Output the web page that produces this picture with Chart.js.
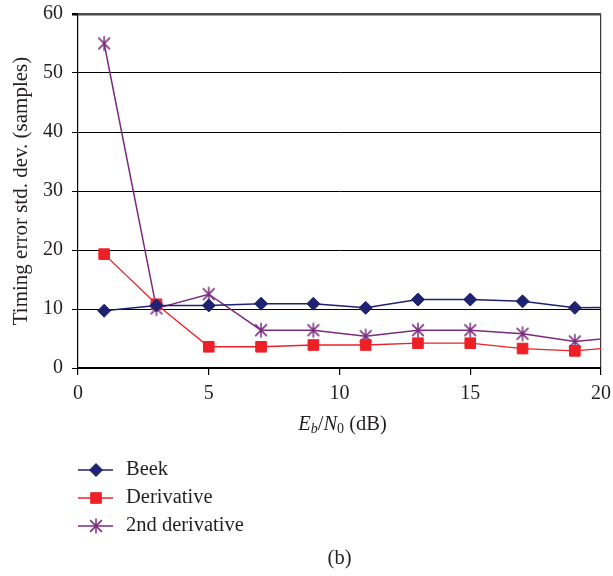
<!DOCTYPE html>
<html>
<head>
<meta charset="utf-8">
<script src="https://cdn.jsdelivr.net/npm/chart.js@4.4.0/dist/chart.umd.min.js"></script>
<style>
html,body{margin:0;padding:0;background:#fff;}
#c{display:block;}
</style>
</head>
<body>
<canvas id="c" width="613" height="576"></canvas>
<script>
// ---- data ----
const ebn0 = [1, 3, 5, 7, 9, 11, 13, 15, 17, 19, 21];
const beek = [9.7, 10.6, 10.6, 10.9, 10.9, 10.2, 11.6, 11.6, 11.3, 10.2, 10.3];
const derivative = [19.3, 10.8, 3.6, 3.6, 3.9, 3.9, 4.2, 4.2, 3.3, 2.9, 3.7];
const secondDerivative = [55, 10.1, 12.5, 6.4, 6.4, 5.4, 6.4, 6.4, 5.8, 4.5, 5.3];
const seriesLabels = ['Beek', 'Derivative', '2nd derivative'];
const yTicks = [0, 10, 20, 30, 40, 50, 60];
const xTicks = [0, 5, 10, 15, 20];

const FONT = '"Liberation Serif", "DejaVu Serif", serif';
const TXT = '#231f20';
const NAVY = '#1f2171';
const RED = '#ee2027';
const PURPLE = '#7a2b7e';

function starMarker(color) {
  const s = 18, c = document.createElement('canvas');
  c.width = s; c.height = s;
  const g = c.getContext('2d');
  g.strokeStyle = color; g.lineWidth = 1.5;
  const m = s / 2, r = 7.5;
  g.beginPath();
  g.moveTo(m, m - r); g.lineTo(m, m + r);
  const d = r * 0.78;
  g.moveTo(m - d, m - d); g.lineTo(m + d, m + d);
  g.moveTo(m + d, m - d); g.lineTo(m - d, m + d);
  g.stroke();
  return c;
}
const starImg = starMarker(PURPLE);

function pts(arr) { return ebn0.map((x, i) => ({x: x, y: arr[i]})); }

const titlesAndLegend = {
  id: 'titlesAndLegend',
  afterDraw(chart) {
    const ctx = chart.ctx;
    const area = chart.chartArea;
    ctx.save();
    ctx.fillStyle = TXT;
    // y title
    ctx.save();
    ctx.translate(21, (area.top + area.bottom) / 2);
    ctx.rotate(-Math.PI / 2);
    ctx.font = '21px ' + FONT;
    ctx.textAlign = 'center';
    ctx.textBaseline = 'middle';
    ctx.fillText('Timing error std. dev. (samples)', 0, 0);
    ctx.restore();
    // x title: E_b/N_0 (dB)
    const parts = [
      {t: 'E', f: 'italic 20.5px ' + FONT, dy: 0},
      {t: 'b', f: 'italic 14px ' + FONT, dy: 4},
      {t: '/', f: '20.5px ' + FONT, dy: 0},
      {t: 'N', f: 'italic 20.5px ' + FONT, dy: 0},
      {t: '0', f: '14px ' + FONT, dy: 4},
      {t: ' (dB)', f: '20.5px ' + FONT, dy: 0}
    ];
    let w = 0;
    parts.forEach(p => { ctx.font = p.f; p.w = ctx.measureText(p.t).width; w += p.w; });
    let x = (area.left + area.right) / 2 + 3 - w / 2;
    const ty = 425;
    ctx.textAlign = 'left';
    ctx.textBaseline = 'middle';
    parts.forEach(p => { ctx.font = p.f; ctx.fillText(p.t, x, ty + p.dy); x += p.w; });
    // legend
    chart.data.datasets.forEach((ds, i) => {
      const ly = 470 + 28 * i;
      ctx.strokeStyle = ds.borderColor;
      ctx.lineWidth = ds.borderWidth;
      ctx.beginPath();
      ctx.moveTo(78, ly); ctx.lineTo(113, ly);
      ctx.stroke();
      ctx.fillStyle = ds.pointBackgroundColor;
      ctx.strokeStyle = ds.pointBorderColor;
      ctx.lineWidth = ds.pointBorderWidth;
      Chart.helpers.drawPoint(ctx, {pointStyle: ds.pointStyle, radius: ds.pointRadius, rotation: 0, borderWidth: ds.pointBorderWidth}, 96, ly);
      ctx.fillStyle = TXT;
      ctx.font = '20.5px ' + FONT;
      ctx.textAlign = 'left';
      ctx.textBaseline = 'middle';
      ctx.fillText(ds.label, 126, ly);
    });
    // (b)
    ctx.textAlign = 'center';
    ctx.font = '20.5px ' + FONT;
    ctx.fillText('(b)', (area.left + area.right) / 2, 559);
    ctx.restore();
  }
};

new Chart(document.getElementById('c'), {
  type: 'line',
  data: {
    datasets: [
      {label: seriesLabels[0], data: pts(beek), borderColor: NAVY, backgroundColor: NAVY,
       borderWidth: 1.5, pointStyle: 'rectRot', pointRadius: 6.5, pointBackgroundColor: NAVY,
       pointBorderColor: NAVY, pointBorderWidth: 1},
      {label: seriesLabels[1], data: pts(derivative), borderColor: RED, backgroundColor: RED,
       borderWidth: 1.3, pointStyle: 'rect', pointRadius: 7.5, pointBackgroundColor: RED,
       pointBorderColor: RED, pointBorderWidth: 1},
      {label: seriesLabels[2], data: pts(secondDerivative), borderColor: PURPLE, backgroundColor: PURPLE,
       borderWidth: 1.5, pointStyle: starImg, pointRadius: 8, pointBackgroundColor: PURPLE,
       pointBorderColor: PURPLE, pointBorderWidth: 1}
    ]
  },
  options: {
    responsive: false,
    animation: false,
    devicePixelRatio: 1,
    events: [],
    layout: {padding: {left: 0, right: 12, top: 14, bottom: 168}},
    plugins: {legend: {display: false}, tooltip: {enabled: false}},
    scales: {
      x: {
        type: 'linear', min: 0, max: 20,
        afterFit: s => { s.height = 40; s.paddingLeft = 0; s.paddingRight = 0; },
        afterBuildTicks: s => { s.ticks = xTicks.map(v => ({value: v})); },
        ticks: {font: {family: FONT, size: 20}, color: TXT, padding: 7, maxRotation: 0},
        grid: {
          drawOnChartArea: true, tickLength: 7, tickColor: '#000', lineWidth: 1.2,
          color: c => (c.tick && c.tick.value === 20) ? '#3a3a3a' : 'rgba(0,0,0,0)'
        },
        border: {display: true, color: '#000', width: 1.2}
      },
      y: {
        type: 'linear', min: 0, max: 60,
        afterFit: s => { s.width = 78; s.paddingTop = 0; s.paddingBottom = 0; },
        afterBuildTicks: s => { s.ticks = yTicks.map(v => ({value: v})); },
        ticks: {font: {family: FONT, size: 20}, color: TXT, padding: 9},
        grid: {
          tickLength: 6, tickColor: '#000',
          color: c => (c.tick && c.tick.value === 60) ? '#4a4a4a' : '#000',
          lineWidth: c => (c.tick && c.tick.value === 60) ? 2.5 : 1
        },
        border: {display: true, color: '#000', width: 1.2}
      }
    }
  },
  plugins: [titlesAndLegend]
});
</script>
</body>
</html>
